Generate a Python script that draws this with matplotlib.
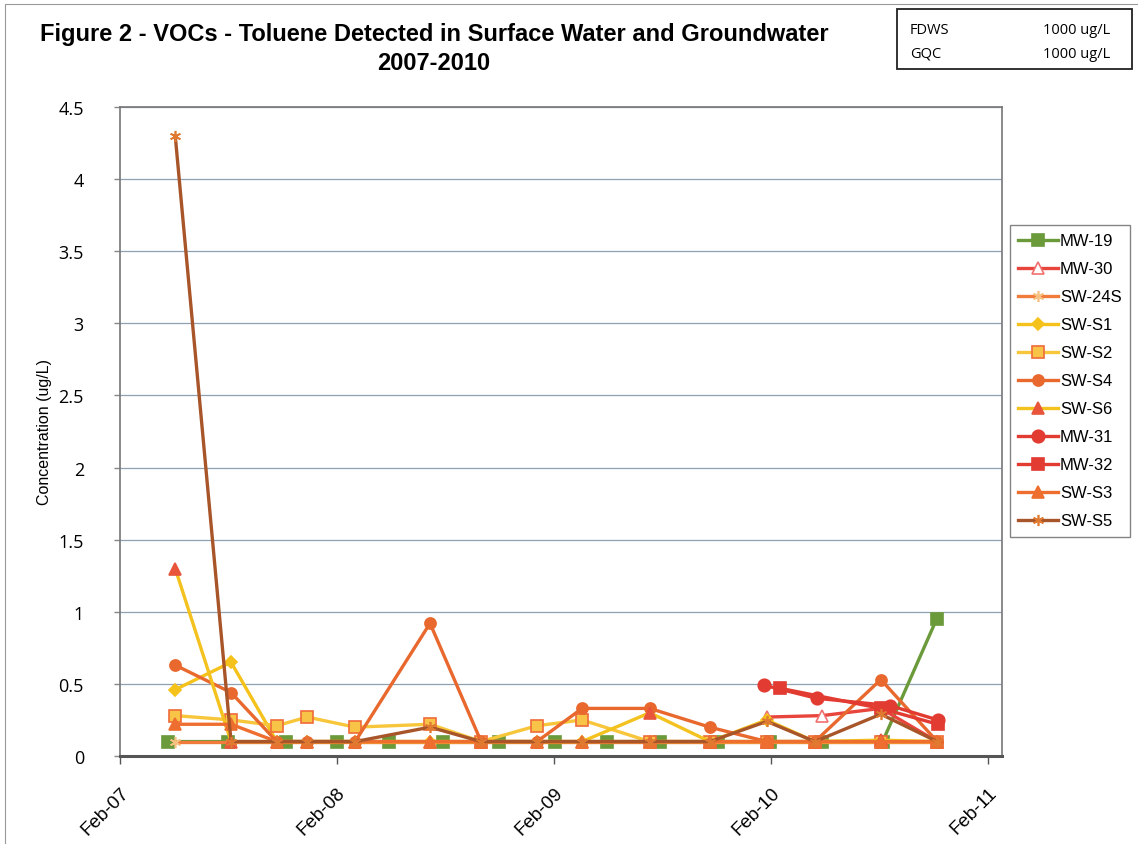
import matplotlib
matplotlib.use("Agg")
import matplotlib.pyplot as plt
from matplotlib.patches import Rectangle
import datetime as dt

plt.rcParams['font.family'] = ['Liberation Sans', 'DejaVu Sans']

# ---------------- data ----------------
mw19_dates = ['2007-04-22', '2007-08-01', '2007-11-08', '2008-02-01', '2008-04-29',
              '2008-07-29', '2008-10-31', '2009-02-02', '2009-05-01', '2009-07-29',
              '2009-11-03', '2010-01-30', '2010-04-28', '2010-08-08', '2010-11-07']
mw19 = [0.10, 0.10, 0.10, 0.10, 0.10, 0.10, 0.10, 0.10, 0.10, 0.10,
        0.10, 0.10, 0.10, 0.10, 0.95]

sw_dates = ['2007-05-05', '2007-08-07', '2007-10-23', '2007-12-13', '2008-03-03',
            '2008-07-07', '2008-10-01', '2009-01-03', '2009-03-20', '2009-07-12',
            '2009-10-21', '2010-01-25', '2010-04-16', '2010-08-05', '2010-11-08']
sw_24s = [0.10, 0.10, 0.10, 0.10, 0.10, 0.10, 0.10, 0.10, 0.10, 0.10,
          0.10, 0.10, 0.10, 0.10, 0.10]
sw_s1 = [0.46, 0.65, 0.10, 0.10, 0.10, 0.10, 0.10, 0.10, 0.10, 0.10,
         0.10, 0.25, 0.10, 0.10, 0.10]
sw_s2 = [0.28, 0.25, 0.21, 0.27, 0.20, 0.22, 0.10, 0.21, 0.25, 0.10,
         0.10, 0.10, 0.10, 0.10, 0.10]
sw_s4 = [0.63, 0.44, 0.10, 0.10, 0.10, 0.92, 0.10, 0.10, 0.33, 0.33,
         0.20, 0.10, 0.10, 0.53, 0.10]
sw_s6 = [1.30, 0.10, 0.10, 0.10, 0.10, 0.10, 0.10, 0.10, 0.10, 0.30,
         0.10, 0.10, 0.10, 0.11, 0.10]
sw_s3 = [0.22, 0.22, 0.10, 0.10, 0.10, 0.10, 0.10, 0.10, 0.10, 0.10,
         0.10, 0.10, 0.10, 0.10, 0.10]
sw_s5 = [4.30, 0.10, 0.10, 0.10, 0.10, 0.20, 0.10, 0.10, 0.10, 0.10,
         0.10, 0.24, 0.10, 0.29, 0.10]

mw30_dates = ['2010-01-25', '2010-04-28', '2010-08-05', '2010-11-08']
mw30 = [0.27, 0.28, 0.33, 0.10]
mw31_dates = ['2010-01-21', '2010-04-19', '2010-08-20', '2010-11-09']
mw31 = [0.49, 0.40, 0.35, 0.25]
mw32_dates = ['2010-02-16', '2010-08-05', '2010-11-09']
mw32 = [0.47, 0.33, 0.22]

x_tick_labels = ['Feb-07', 'Feb-08', 'Feb-09', 'Feb-10', 'Feb-11']
y_ticks = [0, 0.5, 1, 1.5, 2, 2.5, 3, 3.5, 4, 4.5]


def d(lst):
    return [dt.datetime.strptime(s, '%Y-%m-%d') for s in lst]


# ---------------- figure ----------------
fig = plt.figure(figsize=(11.38, 8.45), dpi=100)
ax = fig.add_axes([120 / 1138, 1 - 757 / 845, (1002 - 120) / 1138, (757 - 108) / 845])

star = (6, 2, 0)
series = [
    ('MW-19', d(mw19_dates), mw19, dict(color='#6b9a3a', marker='s', ms=8, mfc='#6b9a3a', mec='#6b9a3a')),
    ('MW-30', d(mw30_dates), mw30, dict(color='#e8453c', marker='^', ms=8, mfc='white', mec='#f07070')),
    ('SW-24S', d(sw_dates), sw_24s, dict(color='#f07b3a', marker=star, ms=8, mfc='#f5c080', mec='#f5c080')),
    ('SW-S1', d(sw_dates), sw_s1, dict(color='#f5c21c', marker='D', ms=6, mfc='#f5c21c', mec='#f5c21c')),
    ('SW-S2', d(sw_dates), sw_s2, dict(color='#f7c63a', marker='s', ms=9, mfc='#f8c448', mec='#f06a3a')),
    ('SW-S4', d(sw_dates), sw_s4, dict(color='#e8682e', marker='o', ms=8, mfc='#e8682e', mec='#e8682e')),
    ('SW-S6', d(sw_dates), sw_s6, dict(color='#f3c21e', marker='^', ms=8, mfc='#e8553a', mec='#e8553a')),
    ('MW-31', d(mw31_dates), mw31, dict(color='#e23c32', marker='o', ms=9, mfc='#e23c32', mec='#e23c32')),
    ('MW-32', d(mw32_dates), mw32, dict(color='#e23c32', marker='s', ms=9, mfc='#e23c32', mec='#e23c32')),
    ('SW-S3', d(sw_dates), sw_s3, dict(color='#ee6e30', marker='^', ms=8, mfc='#ee6e30', mec='#ee6e30')),
    ('SW-S5', d(sw_dates), sw_s5, dict(color='#a9552a', marker=star, ms=8, mfc='#e07a30', mec='#e07a30')),
]

for name, xs, ys, st in series:
    ax.plot(xs, ys, label=name, lw=2.4, markeredgewidth=1.2, **st)

xmin = dt.datetime(2007, 2, 1)
xmax = dt.datetime(2011, 2, 1) + dt.timedelta(days=24)
ax.set_xlim(xmin, xmax)
ax.set_ylim(0, 4.5)

tick_dates = [dt.datetime(2007 + i, 2, 1) for i in range(len(x_tick_labels))]
ax.set_xticks(tick_dates)
ax.set_xticklabels(x_tick_labels, rotation=45, ha='right', rotation_mode='anchor',
                   fontsize=13.5)
ax.set_yticks(y_ticks)
ax.set_yticklabels([f'{v:g}' for v in y_ticks], fontsize=13, family=['Open Sans', 'DejaVu Sans'])
ax.tick_params(axis='x', length=6, width=1, color='#555555', pad=14)
ax.tick_params(axis='y', length=4, width=1, color='#888888', pad=22)

ax.grid(axis='y', color='#8fa0b0', lw=0.9)
ax.set_axisbelow(True)
for sp in ['top', 'right', 'left']:
    ax.spines[sp].set_color('#777777')
    ax.spines[sp].set_linewidth(1.2)
ax.spines['bottom'].set_color('#555555')
ax.spines['bottom'].set_linewidth(2.2)

ax.set_ylabel('Concentration (ug/L)', fontsize=11.5)
ax.yaxis.set_label_coords((52 - 120) / (1002 - 120), 0.5)

# title
fig.text(434 / 1138, 1 - 35 / 845, 'Figure 2 - VOCs - Toluene Detected in Surface Water and Groundwater',
         ha='center', va='center', fontsize=17, fontweight='bold')
fig.text(434 / 1138, 1 - 63 / 845, '2007-2010', ha='center', va='center', fontsize=17, fontweight='bold')

# standards box
fig.patches.append(Rectangle((897 / 1138, 1 - 70 / 845), (1132 - 897) / 1138, 60 / 845,
                             transform=fig.transFigure, fill=False, ec='#222222', lw=1.3))
fnt = ['Open Sans', 'DejaVu Sans']
fig.text(910 / 1138, 1 - 30 / 845, 'FDWS', fontsize=10.5, va='center', family=fnt)
fig.text(910 / 1138, 1 - 54 / 845, 'GQC', fontsize=10.5, va='center', family=fnt)
fig.text(1110 / 1138, 1 - 30 / 845, '1000 ug/L', fontsize=10.5, va='center', ha='right', family=fnt)
fig.text(1110 / 1138, 1 - 54 / 845, '1000 ug/L', fontsize=10.5, va='center', ha='right', family=fnt)

# outer chart border
fig.patches.append(Rectangle((5 / 1138, -0.01), 1.02, 1 - 5 / 845 + 0.01,
                             transform=fig.transFigure, fill=False, ec='#999999', lw=0.8))

leg = fig.legend(loc='upper left', bbox_to_anchor=(1010 / 1138, 1 - 226 / 845),
                 frameon=True, fontsize=12, handlelength=2.4, labelspacing=0.78,
                 borderpad=0.5, handletextpad=0.1, borderaxespad=0)
leg.get_frame().set_edgecolor('#666666')
leg.get_frame().set_linewidth(1.0)
leg.get_frame().set_boxstyle('square', pad=0)

fig.savefig('out.png', dpi=100)
